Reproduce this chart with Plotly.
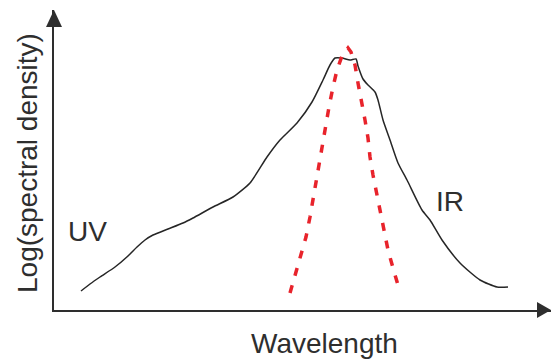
import plotly.graph_objects as go

# Broad emission spectrum (wavelength, log spectral density), arbitrary units
spectrum_x = [27, 36, 46, 61, 74, 83, 91, 99, 114, 129, 139, 159, 179, 196,
              213, 226, 243, 258, 269, 276, 281, 288, 296, 302, 304, 309, 314, 321,
              324, 329, 336, 344, 353, 368, 376, 388, 406, 426, 443, 454]
spectrum_y = [19, 26, 33, 43, 54, 63, 70, 75, 81, 87, 92, 103, 113, 127,
              153, 170, 187, 208, 230, 245, 252, 252, 250, 251, 244, 231, 225, 218,
              210, 190, 170, 147, 130, 100, 90, 70, 47, 30, 23, 23]

# Narrow visible band (red dashed)
band_x = [236, 242, 247, 252, 256, 259, 263, 266, 269, 272, 275, 279, 283, 288,
          294, 297, 301, 304, 308, 311, 314, 316, 319, 323, 326, 330, 334, 339, 344, 346]
band_y = [17, 37, 55, 73, 93, 111, 130, 148, 167, 185, 203, 223, 240, 254,
          262, 258, 245, 227, 208, 190, 172, 153, 135, 115, 97, 78, 60, 42, 23, 18]

W, H = 551, 362
ML, MR, MT, MB = 54, 0, 10, 52
PW, PH = W - ML - MR, H - MT - MB
INK = "#2e2e2e"
FONT = "Liberation Sans, Arial, sans-serif"

fig = go.Figure()
fig.add_trace(go.Scatter(x=spectrum_x, y=spectrum_y, mode="lines",
                         line=dict(color="#262626", width=1.5, shape="spline", smoothing=0.6),
                         hoverinfo="skip", showlegend=False))
fig.add_trace(go.Scatter(x=band_x, y=band_y, mode="lines",
                         line=dict(color="#e8232b", width=3.5, dash="8px,10px"),
                         hoverinfo="skip", showlegend=False))


def px_x(dx):
    return dx / PW


def px_y(dy):
    return dy / PH


# arrowheads on the axis ends
fig.add_shape(type="path", xref="paper", yref="paper",
              path=f"M 0 1 L {px_x(-8)} {1 - px_y(17)} L {px_x(8)} {1 - px_y(17)} Z",
              fillcolor=INK, line=dict(width=0))
fig.add_shape(type="path", xref="paper", yref="paper",
              path=f"M 1 0 L {1 - px_x(14)} {px_y(8)} L {1 - px_x(14)} {px_y(-8)} Z",
              fillcolor=INK, line=dict(width=0))

txt = dict(family=FONT, size=28, color=INK)
centered = dict(showarrow=False, font=txt, xanchor="center", yanchor="middle")
fig.add_annotation(x=33, y=79, text="UV", **centered)
fig.add_annotation(x=396, y=109, text="IR", **centered)
fig.add_annotation(xref="paper", yref="paper", x=px_x(270), y=px_y(-33),
                   text="Wavelength", **centered)
fig.add_annotation(xref="paper", yref="paper", x=px_x(-27), y=px_y(147),
                   text="Log(spectral density)", textangle=-90, **centered)

axis_common = dict(showline=True, linecolor=INK, linewidth=1.5, showgrid=False,
                   zeroline=False, showticklabels=False, ticks="", fixedrange=True)
fig.update_layout(
    width=W, height=H,
    margin=dict(l=ML, r=MR, t=MT, b=MB),
    paper_bgcolor="white", plot_bgcolor="white",
    xaxis=dict(range=[0, PW], **axis_common),
    yaxis=dict(range=[0, PH], **axis_common),
)

fig.write_html("out.html")
